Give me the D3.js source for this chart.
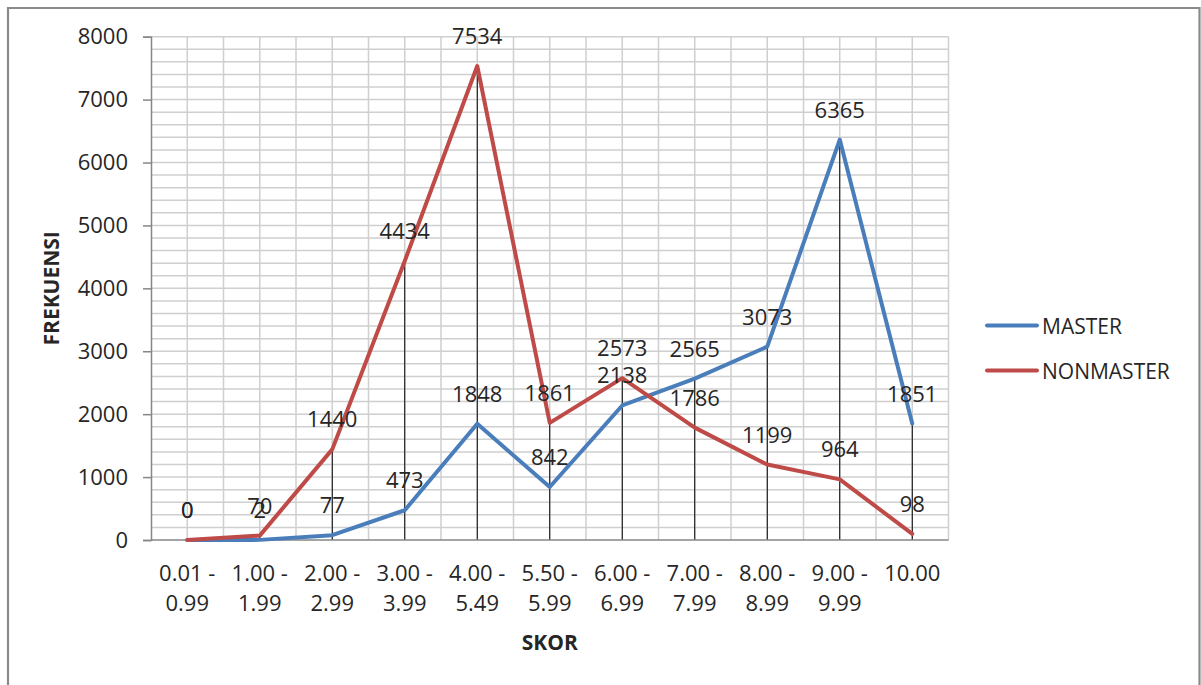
<!DOCTYPE html>
<html><head><meta charset="utf-8">
<script src="https://cdn.jsdelivr.net/npm/d3@7"></script>
<style>
body{margin:0;background:#fff}
svg{display:block}
text{font-family:"Open Sans",sans-serif;fill:#262626}
</style>
</head><body><svg id="c" width="1201" height="685"></svg>
<script>
const categories = ["0.01 - 0.99","1.00 - 1.99","2.00 - 2.99","3.00 - 3.99","4.00 - 5.49","5.50 - 5.99","6.00 - 6.99","7.00 - 7.99","8.00 - 8.99","9.00 - 9.99","10.00"];
const master = [0,2,77,473,1848,842,2138,2565,3073,6365,1851];
const nonmaster = [0,70,1440,4434,7534,1861,2573,1786,1199,964,98];
const yTicks = [0,1000,2000,3000,4000,5000,6000,7000,8000];
const seriesNames = ["MASTER","NONMASTER"];
const seriesColors = ["#4a7ebb","#be4b48"];
const xTitle = "SKOR";
const yTitle = "FREKUENSI";

(function(){
const svg = d3.select("#c");
const pL = 151, pR = 948.5, pT = 36.7, pB = 540;

// frame
svg.append("path").attr("d","M8,686 V8 H1199.5 V686")
  .attr("fill","none").attr("stroke","#8a8a8a").attr("stroke-width",2.2);

const x = d3.scaleBand().domain(categories).range([pL,pR]).padding(0);
const y = d3.scaleLinear().domain([0,8000]).range([pB,pT]);
const cx = c => x(c) + x.bandwidth()/2;

// grid
const g = svg.append("g");
const halfSteps = d3.range(1, categories.length*2+1);
g.selectAll("line.v").data(halfSteps).join("line")
  .attr("x1",k=>pL+k*x.bandwidth()/2).attr("x2",k=>pL+k*x.bandwidth()/2)
  .attr("y1",pT).attr("y2",pB)
  .attr("stroke","#cfcfcf").attr("stroke-width",1.5);
g.selectAll("line.h").data(d3.range(200,8001,200)).join("line")
  .attr("x1",pL).attr("x2",pR)
  .attr("y1",d=>y(d)).attr("y2",d=>y(d))
  .attr("stroke","#cfcfcf").attr("stroke-width",1.5);

// drop lines
svg.append("g").selectAll("line").data(categories).join("line")
  .attr("x1",c=>cx(c)).attr("x2",c=>cx(c))
  .attr("y1",(c,i)=>y(Math.max(master[i],nonmaster[i]))).attr("y2",pB)
  .attr("stroke","#000").attr("stroke-width",1);

// y axis
const ya = svg.append("g").attr("transform",`translate(${pL},0)`)
  .call(d3.axisLeft(y).tickValues(yTicks).tickSize(8).tickPadding(15).tickFormat(d3.format("d")));
ya.select(".domain").attr("stroke","#868686").attr("stroke-width",1.5);
ya.selectAll(".tick line").attr("stroke","#868686").attr("stroke-width",1.5);
ya.selectAll(".tick text").attr("font-size",22).attr("fill","#262626").attr("font-family","Open Sans");

// x axis
svg.append("line").attr("x1",pL).attr("x2",pR).attr("y1",pB).attr("y2",pB)
  .attr("stroke","#868686").attr("stroke-width",1.5);
const xl = svg.append("g").selectAll("text").data(categories).join("text")
  .attr("x",c=>cx(c)).attr("text-anchor","middle").attr("font-size",22);
xl.each(function(c){
  const parts = c.includes(" - ") ? [c.split(" - ")[0]+" -", c.split(" - ")[1]] : [c];
  d3.select(this).selectAll("tspan").data(parts).join("tspan")
    .attr("x",cx(c)).attr("y",(p,i)=>581+i*30).text(p=>p);
});

// lines
const series = [master, nonmaster];
const line = d3.line().x((d,i)=>cx(categories[i])).y(d=>y(d));
series.forEach((s,si)=>{
  svg.append("path").datum(s).attr("d",line).attr("fill","none")
    .attr("stroke",seriesColors[si]).attr("stroke-width",4).attr("stroke-linejoin","round").attr("stroke-linecap","round");
});

// data labels
series.forEach((s,si)=>{
  svg.append("g").selectAll("text").data(s).join("text")
    .attr("x",(d,i)=>cx(categories[i])).attr("y",d=>y(d)-22)
    .attr("text-anchor","middle").attr("font-size",22).text(d=>d);
});

// axis titles
svg.append("text").attr("x",(pL+pR)/2).attr("y",650).attr("text-anchor","middle")
  .attr("font-size",21).attr("font-weight","bold").attr("fill","#111").text(xTitle);
svg.append("text").attr("transform",`translate(59,${(pT+pB)/2}) rotate(-90)`).attr("text-anchor","middle")
  .attr("font-size",21).attr("font-weight","bold").attr("fill","#111").text(yTitle);

// legend
const lg = svg.append("g").selectAll("g").data(seriesNames).join("g")
  .attr("transform",(d,i)=>`translate(987,${325.5+i*45})`);
lg.append("line").attr("x1",0).attr("x2",50).attr("stroke",(d,i)=>seriesColors[i]).attr("stroke-width",4).attr("stroke-linecap","round");
lg.append("text").attr("x",55).attr("y",8).attr("font-size",21).text(d=>d);
})();
</script>
</body></html>
